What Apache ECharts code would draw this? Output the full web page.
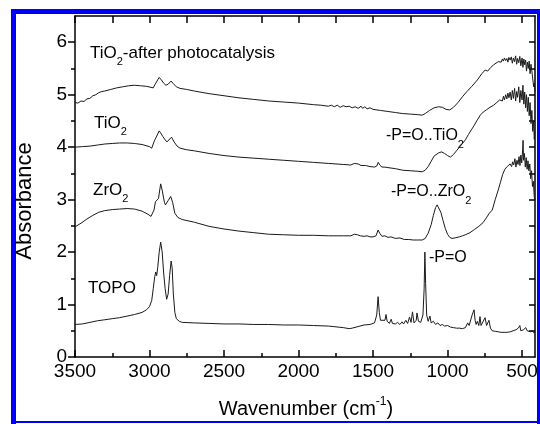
<!DOCTYPE html>
<html>
<head>
<meta charset="utf-8">
<script src="https://cdn.jsdelivr.net/npm/echarts@6/dist/echarts.min.js"></script>
<style>
html,body{margin:0;padding:0;background:#fff;}
#c{width:540px;height:424px;}
</style>
</head>
<body>
<div id="c"></div>
<script>
// ---- data (wavenumber in cm-1, absorbance) ----
var wnAfter = [3500,3480,3460,3440,3420,3400,3380,3360,3340,3320,3300,3260,3220,3180,3140,3100,3060,3020,2990,2975,2962,2950,2935,2920,2905,2890,2875,2855,2840,2820,2795,2750,2700,2600,2500,2400,2300,2200,2100,2000,1900,1850,1800,1780,1760,1740,1720,1700,1680,1660,1640,1620,1600,1580,1570,1555,1540,1520,1500,1450,1400,1350,1300,1250,1200,1170,1150,1120,1090,1060,1035,1010,985,960,930,900,870,840,830,800,770,748,730,710,690,675,660,650,640,632,625,618,610,602,595,588,580,572,565,558,550,543,536,530,522,515,508,500,494,488,482,476,470,464,458,452,446,440,434,428,422,418,413];
var absAfter = [4.85,4.84,4.88,4.87,4.92,4.93,4.98,5.00,5.04,5.06,5.07,5.10,5.13,5.15,5.17,5.18,5.17,5.16,5.14,5.13,5.20,5.22,5.33,5.28,5.22,5.18,5.20,5.26,5.21,5.15,5.12,5.10,5.07,5.02,4.98,4.94,4.91,4.88,4.86,4.84,4.81,4.80,4.78,4.80,4.77,4.80,4.76,4.79,4.77,4.78,4.75,4.77,4.74,4.78,4.74,4.77,4.73,4.75,4.72,4.70,4.68,4.66,4.64,4.63,4.62,4.61,4.64,4.70,4.75,4.77,4.76,4.72,4.71,4.76,4.85,4.96,5.06,5.15,5.17,5.28,5.40,5.47,5.45,5.52,5.57,5.60,5.63,5.66,5.62,5.68,5.64,5.70,5.65,5.69,5.62,5.71,5.66,5.72,5.60,5.70,5.63,5.74,5.58,5.69,5.61,5.73,5.55,5.70,5.52,5.68,5.57,5.66,5.45,5.62,5.50,5.64,5.40,5.58,5.45,5.30,5.15,5.22,5.05];

var wnTiO2 = [3500,3450,3400,3350,3300,3250,3200,3150,3100,3050,3000,2985,2970,2962,2950,2935,2925,2910,2895,2883,2870,2852,2835,2815,2795,2750,2700,2600,2500,2400,2300,2200,2100,2000,1900,1800,1700,1650,1625,1600,1580,1550,1520,1490,1475,1465,1455,1440,1420,1400,1350,1300,1250,1200,1170,1150,1130,1110,1090,1060,1040,1020,1000,980,960,940,920,900,880,860,840,820,800,780,760,740,715,690,670,650,640,632,625,618,610,602,595,588,580,572,565,558,550,543,536,530,522,515,508,500,494,488,482,476,470,464,458,452,446,440,434,428,422,418,413];
var absTiO2 = [4.00,4.01,4.02,4.04,4.06,4.07,4.08,4.08,4.07,4.05,4.01,3.98,4.10,4.15,4.16,4.31,4.27,4.20,4.14,4.10,4.13,4.19,4.10,4.02,3.98,3.95,3.93,3.88,3.84,3.81,3.79,3.77,3.75,3.73,3.71,3.69,3.67,3.66,3.69,3.68,3.65,3.65,3.63,3.62,3.64,3.71,3.66,3.62,3.62,3.61,3.59,3.56,3.55,3.54,3.53,3.56,3.63,3.73,3.83,3.89,3.91,3.88,3.84,3.81,3.86,3.93,4.00,4.07,4.14,4.24,4.33,4.42,4.52,4.61,4.67,4.71,4.76,4.80,4.85,4.90,4.93,4.88,4.97,4.90,5.00,4.92,5.03,4.94,5.05,4.90,5.08,4.93,5.12,4.88,5.06,4.95,5.15,4.85,5.08,4.90,5.18,4.82,5.05,4.75,5.00,4.68,4.95,4.60,4.85,4.45,4.70,4.30,4.50,4.15,4.30];

var wnZrO2 = [3500,3460,3420,3380,3340,3300,3250,3200,3150,3100,3050,3010,2990,2980,2970,2960,2950,2940,2925,2915,2900,2893,2875,2858,2845,2830,2810,2780,2700,2600,2500,2400,2300,2200,2100,2000,1900,1800,1700,1650,1625,1605,1585,1560,1540,1520,1500,1480,1466,1455,1440,1420,1400,1380,1350,1320,1290,1260,1230,1200,1170,1150,1130,1110,1095,1080,1070,1060,1045,1030,1015,1000,985,970,950,920,900,880,849,820,790,762,740,720,700,680,660,645,630,615,600,590,580,570,563,556,548,541,534,527,520,514,508,502,496,493,490,484,478,472,466,460,454,448,442,436,430,424,418,413];
var absZrO2 = [2.48,2.55,2.63,2.70,2.76,2.79,2.81,2.82,2.83,2.82,2.78,2.72,2.68,2.67,2.80,2.96,2.95,3.02,3.30,3.18,2.95,2.90,2.98,3.06,2.95,2.74,2.66,2.62,2.57,2.49,2.44,2.40,2.37,2.34,2.33,2.32,2.32,2.31,2.31,2.31,2.34,2.33,2.31,2.30,2.31,2.29,2.29,2.31,2.42,2.36,2.30,2.31,2.28,2.29,2.26,2.27,2.24,2.24,2.23,2.23,2.23,2.26,2.36,2.52,2.70,2.85,2.90,2.88,2.76,2.60,2.45,2.34,2.28,2.26,2.27,2.29,2.31,2.33,2.37,2.43,2.49,2.56,2.65,2.74,2.80,3.00,3.18,3.33,3.48,3.58,3.63,3.60,3.68,3.63,3.72,3.66,3.78,3.62,3.75,3.67,3.82,3.65,3.85,3.70,3.95,4.13,3.75,3.88,3.62,3.80,3.58,3.74,3.55,3.68,3.40,3.55,3.25,3.35,3.05,2.99];

var wnTOPO = [3500,3450,3400,3350,3300,3250,3200,3150,3100,3050,3020,3000,2985,2975,2965,2958,2952,2945,2935,2925,2915,2905,2895,2885,2875,2865,2855,2848,2840,2830,2820,2800,2780,2700,2600,2500,2400,2300,2200,2100,2000,1900,1800,1700,1660,1640,1600,1560,1520,1490,1475,1466,1458,1450,1440,1420,1413,1405,1390,1378,1370,1350,1335,1320,1305,1295,1280,1268,1255,1245,1235,1225,1210,1205,1195,1180,1165,1157,1152,1147,1140,1130,1118,1110,1095,1080,1065,1050,1035,1020,1000,980,960,940,920,900,880,865,855,845,835,822,815,808,800,790,782,775,765,748,738,730,722,712,700,680,660,640,620,600,580,560,540,525,515,508,500,490,475,465,455,445,430,420,413];
var absTOPO = [0.62,0.63,0.66,0.69,0.71,0.73,0.75,0.78,0.81,0.85,0.90,0.96,1.08,1.30,1.53,1.62,1.55,1.70,2.00,2.19,2.00,1.60,1.30,1.10,1.20,1.55,1.83,1.70,1.20,0.85,0.73,0.68,0.66,0.65,0.64,0.63,0.63,0.62,0.62,0.61,0.61,0.60,0.59,0.56,0.54,0.55,0.58,0.61,0.62,0.65,0.80,1.15,0.85,0.70,0.68,0.70,0.81,0.68,0.64,0.72,0.64,0.63,0.66,0.62,0.67,0.63,0.70,0.64,0.76,0.66,0.86,0.65,0.70,0.84,0.68,0.66,0.80,1.30,2.00,1.40,0.80,0.68,0.78,0.65,0.68,0.62,0.65,0.60,0.62,0.59,0.60,0.57,0.56,0.55,0.55,0.54,0.56,0.65,0.60,0.62,0.80,0.90,0.70,0.62,0.68,0.60,0.77,0.60,0.63,0.75,0.60,0.62,0.70,0.55,0.50,0.49,0.48,0.47,0.47,0.47,0.48,0.50,0.52,0.55,0.60,0.50,0.53,0.52,0.56,0.50,0.53,0.48,0.50,0.46,0.47];

var xMajor = [3500,3000,2500,2000,1500,1000,500];
var xMinor = [3250,2750,2250,1750,1250,750];
var xTop = [3500,3250,3000,2750,2500,2250,2000,1750,1500,1250,1000,750,500];
var yMajor = [0,1,2,3,4,5,6];
var yMinor = [0.5,1.5,2.5,3.5,4.5,5.5];
var yRight = [0.5,1,1.5,2,2.5,3,3.5,4,4.5,5,5.5,6];

function pairs(w, a) { return w.map(function (v, i) { return [v, a[i]]; }); }

var FONT = '"Liberation Sans", Arial, sans-serif';
var XMIN = 413, XMAX = 3500, YMIN = 0, YMAX = 6.5;
var black = '#000';
function plain(v) { return String(v); }

function xAx(pos, ticks, len, showLine, showLabel) {
  return {
    type: 'value', position: pos, min: XMIN, max: XMAX, inverse: true,
    axisLine: { show: showLine, onZero: false, lineStyle: { color: black, width: 1.5 } },
    axisTick: { show: true, inside: true, length: len, customValues: ticks, lineStyle: { color: black, width: 1.5 } },
    axisLabel: { show: showLabel, customValues: ticks, formatter: plain, fontSize: 19, color: black, fontFamily: FONT, margin: 5 },
    splitLine: { show: false }
  };
}
function yAx(pos, ticks, len, inside, showLine, showLabel) {
  return {
    type: 'value', position: pos, min: YMIN, max: YMAX,
    axisLine: { show: showLine, onZero: false, lineStyle: { color: black, width: 1.5 } },
    axisTick: { show: true, inside: inside, length: len, customValues: ticks, lineStyle: { color: black, width: 1.5 } },
    axisLabel: { show: showLabel, customValues: ticks, formatter: plain, fontSize: 19, color: black, fontFamily: FONT, margin: 8 },
    splitLine: { show: false }
  };
}

var lineStyle = { color: '#1a1a1a', width: 1 };
function ser(name, w, a) {
  return { name: name, type: 'line', xAxisIndex: 0, yAxisIndex: 0, data: pairs(w, a),
    showSymbol: false, symbol: 'none', lineStyle: lineStyle, silent: true, animation: false };
}

function label(x, y, rich, size) {
  return {
    type: 'text', x: x, y: y, silent: true,
    style: {
      text: rich, fill: black, font: size + 'px ' + FONT, align: 'left', verticalAlign: 'middle',
      rich: {
        n: { fontSize: size, fontFamily: FONT, lineHeight: 28, verticalAlign: 'middle' },
        sub: { fontSize: 11, fontFamily: FONT, lineHeight: 12, verticalAlign: 'bottom' }
      }
    }
  };
}

var chart = echarts.init(document.getElementById('c'), null, { renderer: 'canvas' });
chart.setOption({
  animation: false,
  backgroundColor: '#fff',
  grid: { left: 75, right: 5, top: 16, bottom: 67, containLabel: false, outerBoundsMode: 'none' },
  xAxis: [
    xAx('bottom', xMajor, 7, true, true),
    xAx('bottom', xMinor, 4, false, false),
    xAx('top', xTop, 7, true, false)
  ],
  yAxis: [
    yAx('left', yMajor, 7, false, true, true),
    yAx('left', yMinor, 4, false, false, false),
    yAx('right', yRight, 6, true, true, false)
  ],
  series: [
    ser('TiO2-after photocatalysis', wnAfter, absAfter),
    ser('TiO2', wnTiO2, absTiO2),
    ser('ZrO2', wnZrO2, absZrO2),
    ser('TOPO', wnTOPO, absTOPO)
  ],
  graphic: [
    { type: 'rect', shape: { x: 11, y: 9, width: 529, height: 5 }, style: { fill: '#0000f5' }, silent: true },
    { type: 'rect', shape: { x: 11, y: 9, width: 5, height: 415 }, style: { fill: '#0000f5' }, silent: true },
    { type: 'rect', shape: { x: 537, y: 9, width: 3, height: 415 }, style: { fill: '#0000f5' }, silent: true },
    { type: 'rect', shape: { x: 11, y: 421, width: 529, height: 2 }, style: { fill: '#0000f5' }, silent: true },
    label(90, 53, '{n|TiO}{sub|2}{n|-after photocatalysis}', 17),
    label(94, 123, '{n|TiO}{sub|2}', 17),
    label(93, 190, '{n|ZrO}{sub|2}', 17),
    label(88, 288, '{n|TOPO}', 17),
    label(386, 136, '{n|-P=O..TiO}{sub|2}', 16),
    label(391, 192, '{n|-P=O..ZrO}{sub|2}', 16),
    label(429, 258, '{n|-P=O}', 16),
    {
      type: 'text', x: 25, y: 201, rotation: Math.PI / 2, silent: true,
      style: { text: 'Absorbance', fill: black, font: '22px ' + FONT, align: 'center', verticalAlign: 'middle' }
    },
    {
      type: 'text', x: 306, y: 409, silent: true,
      style: {
        text: '{n|Wavenumber (cm}{sup|-1}{n|)}', fill: black, font: '20px ' + FONT, align: 'center', verticalAlign: 'middle',
        rich: {
          n: { fontSize: 20, fontFamily: FONT, lineHeight: 26, verticalAlign: 'middle' },
          sup: { fontSize: 12, fontFamily: FONT, lineHeight: 14, verticalAlign: 'top' }
        }
      }
    }
  ]
});
</script>
</body>
</html>
